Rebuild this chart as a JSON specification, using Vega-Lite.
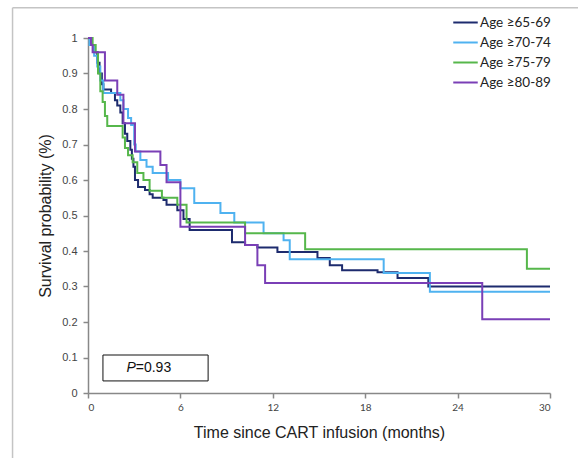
{
  "$schema": "https://vega.github.io/schema/vega-lite/v6.json",
  "width": 462,
  "height": 355,
  "autosize": "none",
  "padding": {"left": 88, "top": 38, "right": 28, "bottom": 65},
  "background": "white",
  "config": {"view": {"stroke": null}},
  "datasets": {
    "km": [
      {"group": "Age ≥65-69", "t": 0, "s": 1.0},
      {"group": "Age ≥65-69", "t": 0.2, "s": 0.98},
      {"group": "Age ≥65-69", "t": 0.4, "s": 0.96},
      {"group": "Age ≥65-69", "t": 0.6, "s": 0.93},
      {"group": "Age ≥65-69", "t": 0.75, "s": 0.9},
      {"group": "Age ≥65-69", "t": 0.9, "s": 0.87},
      {"group": "Age ≥65-69", "t": 1.0, "s": 0.855},
      {"group": "Age ≥65-69", "t": 1.5, "s": 0.845},
      {"group": "Age ≥65-69", "t": 1.75, "s": 0.825},
      {"group": "Age ≥65-69", "t": 1.9, "s": 0.81},
      {"group": "Age ≥65-69", "t": 2.1, "s": 0.79},
      {"group": "Age ≥65-69", "t": 2.25, "s": 0.76},
      {"group": "Age ≥65-69", "t": 2.4, "s": 0.73},
      {"group": "Age ≥65-69", "t": 2.55, "s": 0.71},
      {"group": "Age ≥65-69", "t": 2.75, "s": 0.685},
      {"group": "Age ≥65-69", "t": 2.85, "s": 0.66},
      {"group": "Age ≥65-69", "t": 2.95, "s": 0.637},
      {"group": "Age ≥65-69", "t": 3.05, "s": 0.6},
      {"group": "Age ≥65-69", "t": 3.25, "s": 0.58},
      {"group": "Age ≥65-69", "t": 3.7, "s": 0.572},
      {"group": "Age ≥65-69", "t": 4.0, "s": 0.56},
      {"group": "Age ≥65-69", "t": 4.2, "s": 0.55},
      {"group": "Age ≥65-69", "t": 4.9, "s": 0.544},
      {"group": "Age ≥65-69", "t": 5.1, "s": 0.53},
      {"group": "Age ≥65-69", "t": 5.8, "s": 0.515},
      {"group": "Age ≥65-69", "t": 6.2, "s": 0.49},
      {"group": "Age ≥65-69", "t": 6.6, "s": 0.459},
      {"group": "Age ≥65-69", "t": 9.35, "s": 0.425},
      {"group": "Age ≥65-69", "t": 10.2, "s": 0.417},
      {"group": "Age ≥65-69", "t": 11.0, "s": 0.41},
      {"group": "Age ≥65-69", "t": 12.3, "s": 0.397},
      {"group": "Age ≥65-69", "t": 14.9, "s": 0.38},
      {"group": "Age ≥65-69", "t": 15.7, "s": 0.36},
      {"group": "Age ≥65-69", "t": 16.5, "s": 0.346},
      {"group": "Age ≥65-69", "t": 18.8, "s": 0.34},
      {"group": "Age ≥65-69", "t": 20.1, "s": 0.324},
      {"group": "Age ≥65-69", "t": 22.1, "s": 0.3},
      {"group": "Age ≥65-69", "t": 30, "s": 0.3},

      {"group": "Age ≥70-74", "t": 0, "s": 1.0},
      {"group": "Age ≥70-74", "t": 0.1, "s": 0.98},
      {"group": "Age ≥70-74", "t": 0.4, "s": 0.95},
      {"group": "Age ≥70-74", "t": 0.6, "s": 0.92},
      {"group": "Age ≥70-74", "t": 0.8, "s": 0.88},
      {"group": "Age ≥70-74", "t": 1.0, "s": 0.845},
      {"group": "Age ≥70-74", "t": 2.1, "s": 0.825},
      {"group": "Age ≥70-74", "t": 2.3, "s": 0.8},
      {"group": "Age ≥70-74", "t": 2.6, "s": 0.775},
      {"group": "Age ≥70-74", "t": 2.8, "s": 0.755},
      {"group": "Age ≥70-74", "t": 3.0, "s": 0.7},
      {"group": "Age ≥70-74", "t": 3.1, "s": 0.68},
      {"group": "Age ≥70-74", "t": 3.4, "s": 0.656},
      {"group": "Age ≥70-74", "t": 3.8, "s": 0.637},
      {"group": "Age ≥70-74", "t": 4.2, "s": 0.62},
      {"group": "Age ≥70-74", "t": 5.2, "s": 0.6},
      {"group": "Age ≥70-74", "t": 6.0, "s": 0.577},
      {"group": "Age ≥70-74", "t": 6.9, "s": 0.535},
      {"group": "Age ≥70-74", "t": 8.6, "s": 0.507},
      {"group": "Age ≥70-74", "t": 9.5, "s": 0.48},
      {"group": "Age ≥70-74", "t": 11.4, "s": 0.45},
      {"group": "Age ≥70-74", "t": 12.7, "s": 0.43},
      {"group": "Age ≥70-74", "t": 13.1, "s": 0.377},
      {"group": "Age ≥70-74", "t": 19.2, "s": 0.338},
      {"group": "Age ≥70-74", "t": 22.2, "s": 0.285},
      {"group": "Age ≥70-74", "t": 30, "s": 0.285},

      {"group": "Age ≥75-79", "t": 0, "s": 1.0},
      {"group": "Age ≥75-79", "t": 0.3, "s": 0.98},
      {"group": "Age ≥75-79", "t": 0.5, "s": 0.96},
      {"group": "Age ≥75-79", "t": 0.65, "s": 0.9},
      {"group": "Age ≥75-79", "t": 0.8, "s": 0.85},
      {"group": "Age ≥75-79", "t": 0.95, "s": 0.82},
      {"group": "Age ≥75-79", "t": 1.1, "s": 0.78},
      {"group": "Age ≥75-79", "t": 1.25, "s": 0.752},
      {"group": "Age ≥75-79", "t": 2.25, "s": 0.72},
      {"group": "Age ≥75-79", "t": 2.4, "s": 0.69},
      {"group": "Age ≥75-79", "t": 2.6, "s": 0.67},
      {"group": "Age ≥75-79", "t": 2.9, "s": 0.65},
      {"group": "Age ≥75-79", "t": 3.2, "s": 0.62},
      {"group": "Age ≥75-79", "t": 3.6, "s": 0.6},
      {"group": "Age ≥75-79", "t": 4.0, "s": 0.57},
      {"group": "Age ≥75-79", "t": 4.8, "s": 0.55},
      {"group": "Age ≥75-79", "t": 5.8, "s": 0.53},
      {"group": "Age ≥75-79", "t": 6.4, "s": 0.48},
      {"group": "Age ≥75-79", "t": 10.2, "s": 0.45},
      {"group": "Age ≥75-79", "t": 14.1, "s": 0.405},
      {"group": "Age ≥75-79", "t": 28.5, "s": 0.35},
      {"group": "Age ≥75-79", "t": 30, "s": 0.35},

      {"group": "Age ≥80-89", "t": 0, "s": 1.0},
      {"group": "Age ≥80-89", "t": 0.2, "s": 0.98},
      {"group": "Age ≥80-89", "t": 0.3, "s": 0.96},
      {"group": "Age ≥80-89", "t": 1.1, "s": 0.88},
      {"group": "Age ≥80-89", "t": 1.9, "s": 0.84},
      {"group": "Age ≥80-89", "t": 2.3, "s": 0.76},
      {"group": "Age ≥80-89", "t": 3.05, "s": 0.68},
      {"group": "Age ≥80-89", "t": 4.7, "s": 0.642},
      {"group": "Age ≥80-89", "t": 5.1, "s": 0.594},
      {"group": "Age ≥80-89", "t": 6.0, "s": 0.468},
      {"group": "Age ≥80-89", "t": 10.2, "s": 0.417},
      {"group": "Age ≥80-89", "t": 11.0, "s": 0.36},
      {"group": "Age ≥80-89", "t": 11.5, "s": 0.31},
      {"group": "Age ≥80-89", "t": 25.6, "s": 0.208},
      {"group": "Age ≥80-89", "t": 30, "s": 0.208}
    ],
    "pbox": [{"x1": 0.97, "x2": 7.8, "y1": 0.034, "y2": 0.107, "tx": 3.1, "ty": 0.07, "p": "P", "v": "=0.93"}],
    "frame": [
      {"x1": -4.9, "x2": -4.9, "y1": 1.085, "y2": -0.2},
      {"x1": -4.9, "x2": 32, "y1": 1.085, "y2": 1.085}
    ],
    "yticks": [
      {"v": 0}, {"v": 0.1}, {"v": 0.2}, {"v": 0.3}, {"v": 0.4}, {"v": 0.5},
      {"v": 0.6}, {"v": 0.7}, {"v": 0.8}, {"v": 0.9}, {"v": 1}
    ]
  },
  "encoding": {
    "x": {
      "type": "quantitative",
      "scale": {"domain": [0, 30], "nice": false},
      "axis": {
        "values": [0, 6, 12, 18, 24, 30],
        "labelOverlap": false,
        "title": "Time since CART infusion (months)",
        "labelFont": "Lato", "labelFontSize": 10, "labelColor": "#444",
        "labelPadding": 4, "tickSize": 5, "tickColor": "#888", "tickWidth": 1.5,
        "domainColor": "#888", "domainWidth": 1.5, "grid": false,
        "titleFont": "Liberation Sans", "titleFontSize": 16, "titleFontWeight": "normal",
        "titleColor": "#222", "titlePadding": 12
      }
    },
    "y": {
      "type": "quantitative",
      "scale": {"domain": [0, 1], "nice": false},
      "axis": {
        "values": [0, 0.1, 0.2, 0.3, 0.4, 0.5, 0.6, 0.7, 0.8, 0.9, 1],
        "tickCount": 11,
        "labelOverlap": false,
        "format": "~g",
        "title": "Survival probability (%)",
        "labelFont": "Liberation Sans", "labelFontSize": 11, "labelColor": "#444",
        "labelPadding": 6, "tickSize": 5, "tickColor": "#888", "tickWidth": 1.5,
        "domainColor": "#888", "domainWidth": 1.5, "grid": false,
        "titleFont": "Liberation Sans", "titleFontSize": 16, "titleFontWeight": "normal",
        "titleColor": "#222", "titlePadding": 8
      }
    }
  },
  "layer": [
    {
      "data": {"name": "km"},
      "mark": {"type": "line", "interpolate": "step-after", "strokeWidth": 2},
      "encoding": {
        "x": {"field": "t"},
        "y": {"field": "s"},
        "color": {
          "field": "group", "type": "nominal",
          "scale": {
            "domain": ["Age ≥65-69", "Age ≥70-74", "Age ≥75-79", "Age ≥80-89"],
            "range": ["#1d2b6e", "#4fb2f0", "#56b74b", "#7a3fb6"]
          },
          "legend": {
            "title": null,
            "orient": "none",
            "legendX": 364,
            "legendY": -29,
            "symbolType": "stroke",
            "symbolSize": 600,
            "symbolStrokeWidth": 2,
            "labelFont": "Lato",
            "labelFontSize": 13.5,
            "labelColor": "#222",
            "labelOffset": 1,
            "rowPadding": -6
          }
        }
      }
    },
    {
      "data": {"name": "pbox"},
      "mark": {"type": "rect", "fill": null, "fillOpacity": 0, "stroke": "#111", "strokeWidth": 1},
      "encoding": {
        "x": {"field": "x1"},
        "x2": {"field": "x2"},
        "y": {"field": "y1"},
        "y2": {"field": "y2"}
      }
    },
    {
      "data": {"name": "pbox"},
      "mark": {"type": "text", "align": "right", "baseline": "middle", "font": "Liberation Sans", "fontSize": 14, "fontStyle": "italic", "color": "#111"},
      "encoding": {
        "x": {"field": "tx"},
        "y": {"field": "ty"},
        "text": {"field": "p"}
      }
    },
    {
      "data": {"name": "pbox"},
      "mark": {"type": "text", "align": "left", "baseline": "middle", "font": "Liberation Sans", "fontSize": 14, "color": "#111"},
      "encoding": {
        "x": {"field": "tx"},
        "y": {"field": "ty"},
        "text": {"field": "v"}
      }
    },
    {
      "data": {"name": "frame"},
      "mark": {"type": "rule", "color": "#c4c4c4", "strokeWidth": 1.5, "clip": false},
      "encoding": {
        "x": {"field": "x1"},
        "x2": {"field": "x2"},
        "y": {"field": "y1"},
        "y2": {"field": "y2"}
      }
    }
  ]
}
